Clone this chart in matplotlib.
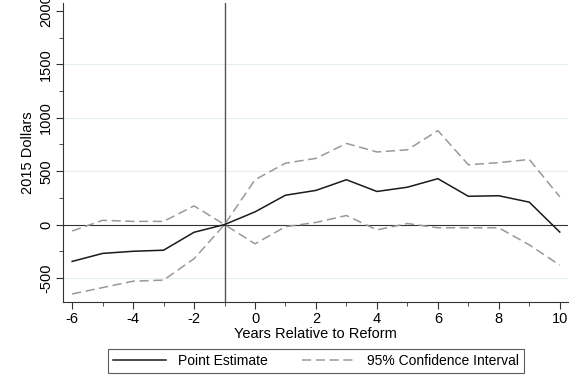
import numpy as np
import matplotlib as mpl
mpl.use('Agg')
import matplotlib.pyplot as plt
from matplotlib.ticker import MultipleLocator

# event time
years = [-6, -5, -4, -3, -2, -1, 0, 1, 2, 3, 4, 5, 6, 7, 8, 9, 10]

# estimates (2015 dollars)
point = [-345, -270, -250, -240, -72, 0, 119, 275, 320, 420, 310, 350, 430, 265, 270, 210, -70]
upper = [-60, 40, 30, 30, 175, 0, 420, 575, 620, 760, 680, 700, 880, 560, 580, 610, 260]
lower = [-650, -590, -530, -520, -320, 0, -180, -20, 20, 85, -50, 10, -30, -30, -30, -190, -380]

plt.rcParams['font.family'] = ['Liberation Sans', 'DejaVu Sans']
plt.rcParams['axes.unicode_minus'] = False

fig = plt.figure(figsize=(5.76, 3.79), dpi=100)
ax = fig.add_axes([63/576., 1 - 302/379., (568 - 63)/576., (302 - 3)/379.])

for y in [-500, 500, 1000, 1500]:
    ax.axhline(y, color='#e6eeee', lw=0.8, zorder=0)
ax.axhline(0, color='#333333', lw=0.8, zorder=1)
ax.axvline(-1, color='#555555', lw=1.0, zorder=1)

pe, = ax.plot(years, point, color='#1a1a1a', lw=1.1, zorder=3)
ci, = ax.plot(years, upper, color='#999999', lw=1.1, dashes=(6, 3), zorder=2)
ax.plot(years, lower, color='#999999', lw=1.1, dashes=(6, 3), zorder=2)

ax.set_xlim(-6.3, 10.27)
ax.set_ylim(-725, 2075)
ax.xaxis.set_major_locator(MultipleLocator(2))
ax.xaxis.set_minor_locator(MultipleLocator(1))
ax.yaxis.set_major_locator(MultipleLocator(500))
ax.yaxis.set_minor_locator(MultipleLocator(250))

for s in ['top', 'right']:
    ax.spines[s].set_visible(False)
ax.spines['left'].set_color('#333333')
ax.spines['bottom'].set_color('#333333')
ax.tick_params(axis='both', which='major', length=5, color='#333333', labelsize=10.5, pad=2)
ax.tick_params(axis='both', which='minor', length=3, color='#333333')
for lab in ax.get_yticklabels():
    lab.set_rotation(90)
    lab.set_va('center')

ax.set_xlabel('Years Relative to Reform', fontsize=10.5, labelpad=1)
ax.set_ylabel('2015 Dollars', fontsize=10.5, labelpad=3)

leg = fig.legend([pe, ci], ['Point Estimate', '95% Confidence Interval'],
                 loc='center', bbox_to_anchor=(316/576., 1 - 361/379.), ncol=2,
                 fontsize=10, frameon=True, fancybox=False, edgecolor='#333333',
                 handlelength=3.8, handletextpad=0.9, columnspacing=2.4, borderpad=0.35)
leg.get_frame().set_linewidth(0.8)

plt.savefig('out.png', dpi=100)
